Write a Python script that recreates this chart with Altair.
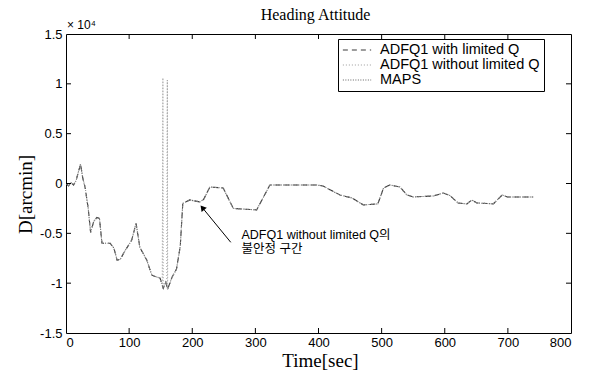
import altair as alt
import pandas as pd

# ---- data ----
time_s = [0, 4, 8, 12, 16, 23, 27, 30, 35, 39, 44, 49, 53, 57, 70, 76, 81, 86, 94,
          104, 111, 117, 128, 136, 149, 154, 158, 161, 168, 175, 181, 185, 196, 212,
          218, 228, 249, 265, 302, 323, 397, 407, 434, 453, 471, 494, 503, 513, 529,
          540, 550, 582, 598, 608, 621, 635, 643, 651, 677, 691, 699, 740]
heading = [0, -250, 100, -150, 300, 1950, 400, -300, -2400, -4900, -3800, -3400, -3500,
           -6000, -6000, -6500, -7700, -7600, -6700, -5700, -4000, -6400, -7700, -9200,
           -9500, -10500, -9900, -10600, -9400, -8600, -6300, -2000, -1650, -1850, -1600,
           -350, -450, -2500, -2650, -150, -150, -250, -1150, -1450, -2150, -2050, -450,
           -150, -350, -1150, -1350, -1250, -950, -1200, -1950, -2050, -1650, -1950,
           -2050, -1150, -1350, -1350]

# unstable section of "ADFQ1 without limited Q"
spike_t = [152.5, 153.5, 154.5, 159.8, 160.5, 161.2]
spike_v = [-10300, 10600, -10500, -10200, 10400, -10700]

series_names = ["ADFQ1 with limited Q", "ADFQ1 without limited Q", "MAPS"]
series_colors = ["#3a3a3a", "#9a9a9a", "#606060"]
series_dash = [[5, 4], [1, 2], [1, 1.5]]

x_ticks = [0, 100, 200, 300, 400, 500, 600, 700, 800]
y_ticks = [-15000, -10000, -5000, 0, 5000, 10000, 15000]

note_lines = ["ADFQ1 without limited Q의", "불안정 구간"]
note_t = [278, 278]
note_v = [-5150, -6550]
arrow_t = [261, 217]
arrow_v = [-5900, -2500]

# ---- build tables ----
rows = []
for t, v in zip(time_s, heading):
    rows.append({"t": t, "v": v, "series": series_names[0]})
    rows.append({"t": t, "v": v, "series": series_names[2]})
wo = sorted(list(zip(time_s, heading)) + list(zip(spike_t, spike_v)))
for t, v in wo:
    rows.append({"t": t, "v": v, "series": series_names[1]})
df = pd.DataFrame(rows)

W, H = 505, 299
xs = alt.Scale(domain=[0, 800], nice=False, zero=False)
ys = alt.Scale(domain=[-15000, 15000], nice=False, zero=False)

SANS = "Liberation Sans, Arial, Noto Sans CJK KR"
SERIF = "Liberation Serif, Times New Roman"

lines = alt.Chart(df).mark_line(strokeWidth=1.1, clip=True).encode(
    x=alt.X("t:Q", scale=xs,
            axis=alt.Axis(values=x_ticks, tickSize=0, domain=False, grid=False,
                          labelFont=SANS, labelFontSize=13, labelPadding=3,
                          labelColor="black", title="Time[sec]", titleFont=SERIF,
                          titleFontSize=19, titleFontWeight="normal", titleColor="black",
                          titleX=254, titleY=27, titleBaseline="middle")),
    y=alt.Y("v:Q", scale=ys,
            axis=alt.Axis(values=y_ticks, tickSize=0, domain=False, grid=False,
                          labelExpr="datum.value / 10000", labelFont=SANS,
                          labelFontSize=13, labelPadding=4, labelColor="black",
                          title="D[arcmin]", titleFont=SERIF, titleFontSize=19,
                          titleFontWeight="normal", titleColor="black",
                          titleX=-41, titleY=160, titleAngle=270,
                          titleAlign="center", titleBaseline="middle")),
    color=alt.Color("series:N", scale=alt.Scale(domain=series_names, range=series_colors),
                    legend=alt.Legend(title=None, orient="none", legendX=272, legendY=5,
                                      fillColor="white", strokeColor="black",
                                      padding=4, rowPadding=0, symbolType="stroke",
                                      symbolSize=800, symbolStrokeWidth=1.2,
                                      clipHeight=14,
                                      labelFont=SANS, labelFontSize=14.5,
                                      labelColor="black", labelOffset=8,
                                      labelLimit=300)),
    strokeDash=alt.StrokeDash("series:N",
                              scale=alt.Scale(domain=series_names, range=series_dash),
                              legend=alt.Legend(title=None, orient="none")),
    order=alt.Order("t:Q"),
)

# inward ticks on all four sides
xt = pd.DataFrame({"t": x_ticks[1:-1]})
yt = pd.DataFrame({"v": y_ticks[1:-1]})
tick_bottom = alt.Chart(xt).mark_rule(color="black").encode(
    x=alt.X("t:Q", scale=xs), y=alt.value(H), y2=alt.value(H - 5))
tick_top = alt.Chart(xt).mark_rule(color="black").encode(
    x=alt.X("t:Q", scale=xs), y=alt.value(0), y2=alt.value(5))
tick_left = alt.Chart(yt).mark_rule(color="black").encode(
    y=alt.Y("v:Q", scale=ys), x=alt.value(0), x2=alt.value(5))
tick_right = alt.Chart(yt).mark_rule(color="black").encode(
    y=alt.Y("v:Q", scale=ys), x=alt.value(W), x2=alt.value(W - 5))

# annotation
adf = pd.DataFrame({"t": arrow_t, "v": arrow_v, "i": [0, 1]})
arrow_line = alt.Chart(adf).mark_line(color="black", strokeWidth=1).encode(
    x=alt.X("t:Q", scale=xs), y=alt.Y("v:Q", scale=ys), order="i:Q")
arrow_head = alt.Chart(adf.iloc[[1]]).mark_point(
    shape="triangle", filled=True, color="black", size=45, angle=321, opacity=1
).encode(x=alt.X("t:Q", scale=xs), y=alt.Y("v:Q", scale=ys))
ndf = pd.DataFrame({"t": note_t, "v": note_v, "txt": note_lines})
note = alt.Chart(ndf).mark_text(align="left", baseline="middle", font=SANS,
                                fontSize=12.5, color="black").encode(
    x=alt.X("t:Q", scale=xs), y=alt.Y("v:Q", scale=ys), text="txt:N")

title = alt.Chart(pd.DataFrame({"s": ["Heading Attitude"]})).mark_text(
    font=SERIF, fontSize=16, color="black", align="center", baseline="middle"
).encode(x=alt.value(W / 2 - 3), y=alt.value(-19), text="s:N")
exponent = alt.Chart(pd.DataFrame({"s": ["× 10⁴"]})).mark_text(
    font=SANS, fontSize=12, color="black", align="left", baseline="middle"
).encode(x=alt.value(1), y=alt.value(-9), text="s:N")

chart = alt.layer(
    lines, tick_bottom, tick_top, tick_left, tick_right,
    arrow_line, arrow_head, note, title, exponent
).properties(
    width=W, height=H,
    autosize=alt.AutoSizeParams(type="none"),
    padding={"left": 66, "top": 34, "right": 23, "bottom": 43},
    background="white",
).configure_view(stroke="black", strokeWidth=1)

chart.save("out.html", embed_options={"renderer": "svg", "actions": False})
